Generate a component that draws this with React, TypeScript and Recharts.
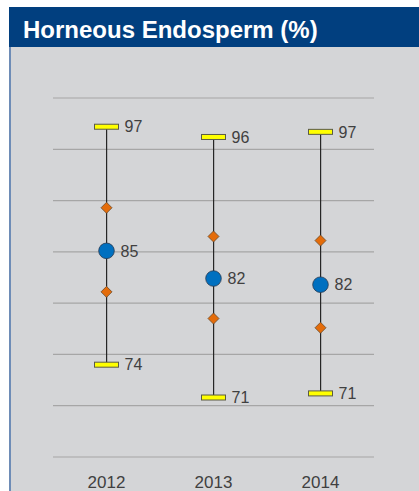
import { Bar, CartesianGrid, ComposedChart, LabelList, Line, XAxis, YAxis } from "recharts"

const years = ["2012", "2013", "2014"]
const maxValues = [97.2, 96.2, 96.7]
const upperValues = [89.3, 86.5, 86.1]
const meanValues = [85.1, 82.4, 81.8]
const lowerValues = [81.1, 78.5, 77.6]
const minValues = [74.0, 70.8, 71.2]
const yTicks = [65, 70, 75, 80, 85, 90, 95, 100]

const data = years.map((year, i) => ({
  year,
  range: [minValues[i], maxValues[i]],
  max: maxValues[i],
  upper: upperValues[i],
  mean: meanValues[i],
  lower: lowerValues[i],
  min: minValues[i],
}))

const YellowBar = (props: any) => {
  const { cx, cy, index } = props
  if (cx == null || cy == null) return <g key={`yb-${index}`} />
  return (
    <rect
      key={`yb-${index}`}
      x={cx - 12}
      y={cy - 2.5}
      width={24}
      height={5}
      fill="#FFFF00"
      stroke="#5b5b45"
      strokeWidth={1}
    />
  )
}

const Diamond = (props: any) => {
  const { cx, cy, index } = props
  if (cx == null || cy == null) return <g key={`dm-${index}`} />
  const r = 5.5
  return (
    <path
      key={`dm-${index}`}
      d={`M${cx},${cy - r} L${cx + r},${cy} L${cx},${cy + r} L${cx - r},${cy} Z`}
      fill="#E46C0A"
      stroke="#6b4a2a"
      strokeWidth={0.8}
    />
  )
}

const MeanDot = (props: any) => {
  const { cx, cy, index } = props
  if (cx == null || cy == null) return <g key={`md-${index}`} />
  return <circle key={`md-${index}`} cx={cx} cy={cy} r={7.8} fill="#0070C0" stroke="#2b3a4f" strokeWidth={0.8} />
}

const YearTick = (props: any) => {
  const { x, y, payload } = props
  return (
    <text x={x} y={y + 31} textAnchor="middle" fill="#404040" fontSize={17}>
      {payload.value}
    </text>
  )
}

const round = (v: any) => Math.round(Number(v))

export default function App() {
  return (
    <div style={{ fontFamily: "'Liberation Sans', Arial, sans-serif" }}>
      <div
        style={{
          position: "absolute",
          left: 9,
          top: 7,
          width: 410,
          height: 40,
          background: "#013F7F",
          color: "#fff",
          fontWeight: "bold",
          fontSize: 24,
          lineHeight: "45px",
          paddingLeft: 14,
          boxSizing: "border-box",
          overflow: "hidden",
          whiteSpace: "nowrap",
        }}
      >
        Horneous Endosperm (%)
      </div>
      <div
        style={{
          position: "absolute",
          left: 9,
          top: 47,
          width: 410,
          height: 444,
          background: "#D4D5D7",
        }}
      >
        <div style={{ position: "absolute", left: 0, top: 0, width: 1.5, height: 444, background: "#6E8CB6" }} />
        <ComposedChart width={410} height={444} data={data} margin={{ top: 51, right: 45, left: 44, bottom: 0 }}>
          <CartesianGrid vertical={false} stroke="#A6A6A6" strokeWidth={1.2} />
          <XAxis
            dataKey="year"
            axisLine={false}
            tickLine={false}
            tickSize={0}
            tickMargin={0}
            height={34}
            tick={YearTick}
            interval={0}
          />
          <YAxis hide domain={[65, 100]} ticks={yTicks} type="number" allowDataOverflow />
          <Bar dataKey="range" barSize={1.2} fill="#262626" isAnimationActive={false} />
          <Line dataKey="max" stroke="none" dot={YellowBar} activeDot={false} isAnimationActive={false}>
            <LabelList dataKey="max" position="right" offset={18} formatter={round} fill="#404040" fontSize={16} />
          </Line>
          <Line dataKey="min" stroke="none" dot={YellowBar} activeDot={false} isAnimationActive={false}>
            <LabelList dataKey="min" position="right" offset={18} formatter={round} fill="#404040" fontSize={16} />
          </Line>
          <Line dataKey="upper" stroke="none" dot={Diamond} activeDot={false} isAnimationActive={false} />
          <Line dataKey="lower" stroke="none" dot={Diamond} activeDot={false} isAnimationActive={false} />
          <Line dataKey="mean" stroke="none" dot={MeanDot} activeDot={false} isAnimationActive={false}>
            <LabelList dataKey="mean" position="right" offset={14} formatter={round} fill="#404040" fontSize={16} />
          </Line>
        </ComposedChart>
      </div>
    </div>
  )
}
